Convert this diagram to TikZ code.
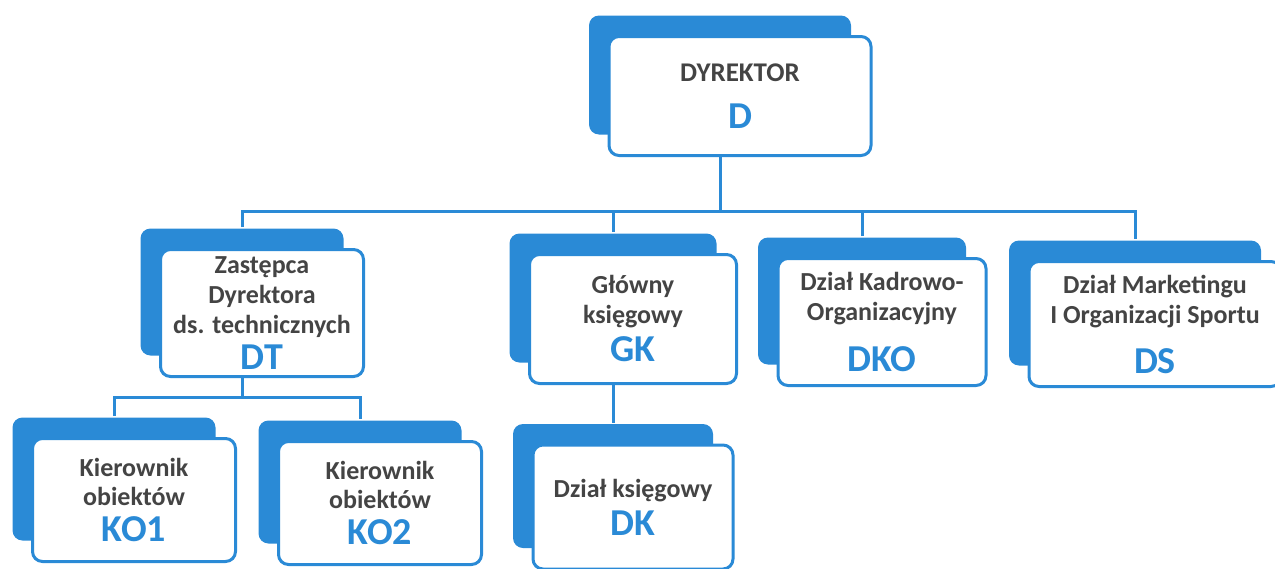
\documentclass[tikz,border=0pt]{standalone}
\usepackage{fontspec}
\setmainfont{Carlito}
\usetikzlibrary{shadows,positioning}

\definecolor{orgblue}{RGB}{42,138,214}
\definecolor{orgtext}{RGB}{68,68,68}
\newcommand{\orgcode}[1]{{\fontsize{38}{40}\selectfont\color{orgblue}#1}}

\tikzset{
  orgbox/.style={draw=orgblue, line width=3pt, fill=white, rounded corners=10pt,
    general shadow={fill=orgblue, shadow xshift=-20pt, shadow yshift=21pt},
    align=center, font=\bfseries\fontsize{26}{30}\selectfont, text=orgtext,
    inner sep=0pt, minimum width=203pt, minimum height=127pt},
  orglink/.style={draw=orgblue, line width=3pt}
}

\begin{document}
\begin{tikzpicture}[x=1pt,y=-1pt]
\useasboundingbox (0,0) rectangle (1275,568);

% boxes
\node[orgbox, minimum width=262pt, minimum height=119pt] (d) at (740,96) {\fontsize{27}{30}\selectfont DYREKTOR\\[17pt]\orgcode{D}};
\node[orgbox] (dt) at (262,313) {Zastępca\\Dyrektora\\ds. technicznych\\[6pt]\orgcode{DT}};
\node[orgbox, minimum width=207pt, minimum height=129pt] (gk) at (633,319) {Główny\\księgowy\\[8pt]\orgcode{GK}};
\node[orgbox, minimum width=208pt] (dko) at (882,322) {Dział Kadrowo-\\Organizacyjny\\[21pt]\orgcode{DKO}};
\node[orgbox, minimum width=252pt, minimum height=125pt] (ds) at (1155,324) {Dział Marketingu\\I Organizacji Sportu\\[20pt]\orgcode{DS}};
\node[orgbox, minimum height=123pt] (ko1) at (134,500) {Kierownik\\obiektów\\[6pt]\orgcode{KO1}};
\node[orgbox, minimum height=123pt] (ko2) at (380,503) {Kierownik\\obiektów\\[6pt]\orgcode{KO2}};
\node[orgbox, minimum width=200pt, minimum height=124pt] (dk) at (633,507) {Dział księgowy\\[8pt]\orgcode{DK}};

% tops of the shadows
\coordinate (dttop) at ([xshift=-20pt,yshift=21pt]dt.north);
\coordinate (gktop) at ([xshift=-20pt,yshift=21pt]gk.north);
\coordinate (dkotop) at ([xshift=-20pt,yshift=21pt]dko.north);
\coordinate (dstop) at ([xshift=-20pt,yshift=21pt]ds.north);
\coordinate (ko1top) at ([xshift=-20pt,yshift=21pt]ko1.north);
\coordinate (ko2top) at ([xshift=-20pt,yshift=21pt]ko2.north);
\coordinate (dktop) at ([xshift=-20pt,yshift=21pt]dk.north);

% connectors
\draw[orglink] ([xshift=-20pt]d.south) -- ++(0,54) coordinate (bus);
\draw[orglink] (dttop) |- (bus) -| (dstop); %main bus
\draw[orglink] (gktop) -- (gktop |- bus);
\draw[orglink] (dkotop) -- (dkotop |- bus);
\draw[orglink] ([xshift=-20pt]dt.south) -- ++(0,19) coordinate (subbus);
\draw[orglink] (ko1top) |- (subbus) -| (ko2top);
\draw[orglink] ([xshift=-20pt]gk.south) -- (dktop);
\end{tikzpicture}
\end{document}
